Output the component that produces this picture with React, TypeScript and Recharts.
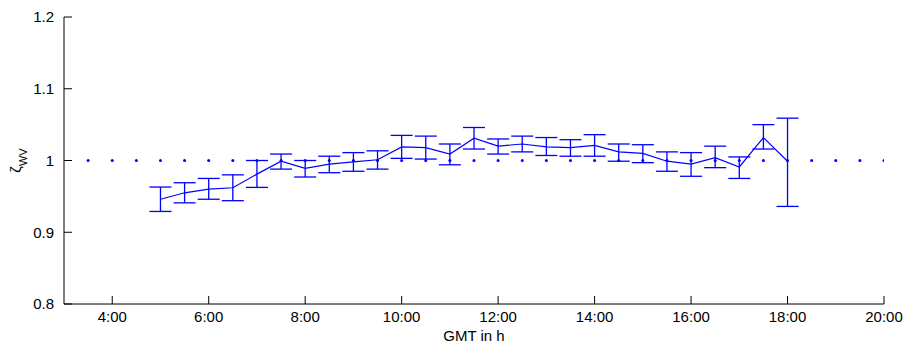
import React from 'react';
import { ComposedChart, Line, Scatter, XAxis, YAxis, ErrorBar } from 'recharts';

const hours = [5, 5.5, 6, 6.5, 7, 7.5, 8, 8.5, 9, 9.5, 10, 10.5, 11, 11.5, 12, 12.5, 13, 13.5, 14, 14.5, 15, 15.5, 16, 16.5, 17, 17.5, 18];
const values = [0.946, 0.955, 0.960, 0.962, 0.981, 0.999, 0.989, 0.995, 0.998, 1.001, 1.019, 1.018, 1.009, 1.031, 1.020, 1.023, 1.019, 1.018, 1.021, 1.012, 1.010, 0.999, 0.995, 1.004, 0.991, 1.032, 0.999];
const upper = [0.963, 0.969, 0.975, 0.980, 1.000, 1.009, 1.000, 1.006, 1.011, 1.0135, 1.035, 1.034, 1.023, 1.046, 1.030, 1.034, 1.032, 1.029, 1.036, 1.023, 1.022, 1.012, 1.011, 1.020, 1.005, 1.050, 1.059];
const lower = [0.929, 0.941, 0.946, 0.944, 0.9625, 0.988, 0.977, 0.983, 0.985, 0.988, 1.003, 1.002, 0.994, 1.016, 1.009, 1.012, 1.007, 1.006, 1.006, 0.999, 0.997, 0.985, 0.978, 0.990, 0.975, 1.016, 0.936];

const refHours = [3.5, 4, 4.5, 5, 5.5, 6, 6.5, 7, 7.5, 8, 8.5, 9, 9.5, 10, 10.5, 11, 11.5, 12, 12.5, 13, 13.5, 14, 14.5, 15, 15.5, 16, 16.5, 17, 17.5, 18, 18.5, 19, 19.5, 20];
const refValue = 1;

const xTicks = [4, 6, 8, 10, 12, 14, 16, 18, 20];
const yTicks = [0.8, 0.9, 1, 1.1, 1.2];

const mainData = hours.map((h, i) => ({ x: h, v: values[i], err: [values[i] - lower[i], upper[i] - values[i]] }));
const refData = refHours.map((h) => ({ x: h, y: refValue }));

const BLUE = '#0000ff';
const FONT = '"Liberation Sans", Arial, sans-serif';

const YLabel = (props: any) => {
  const vb = props.viewBox || { x: 0, y: 17, width: 64, height: 287 };
  const cy = vb.y + vb.height / 2;
  return (
    <text transform={`translate(21,${cy}) rotate(-90)`} textAnchor="middle" fontFamily={FONT} fontSize={15} fill="#000">
      ζ<tspan dy={6} fontSize={11}>WV</tspan>
    </text>
  );
};

const XLabel = (props: any) => {
  const vb = props.viewBox || { x: 64, y: 304, width: 820, height: 41 };
  return (
    <text x={vb.x + vb.width / 2} y={341} textAnchor="middle" fontFamily={FONT} fontSize={15} fill="#000">
      GMT in h
    </text>
  );
};

const RefDot = (props: any) => <circle cx={props.cx} cy={props.cy} r={1.5} fill={BLUE} />;

export default function App() {
  return (
    <div style={{ position: 'absolute', left: 0, top: 0, width: 905, height: 345, background: '#fff' }}>
      <ComposedChart width={905} height={345} margin={{ top: 17, right: 21, bottom: 0, left: 0 }}>
        <XAxis
          dataKey="x"
          type="number"
          domain={[3, 20]}
          ticks={xTicks}
          allowDataOverflow
          tickFormatter={(h: number) => `${h}:00`}
          height={41}
          tickSize={-8}
          tickMargin={15}
          stroke="#000"
          tick={{ fill: '#000', fontSize: 15, fontFamily: FONT }}
          label={<XLabel />}
        />
        <YAxis
          type="number"
          domain={[0.8, 1.2]}
          ticks={yTicks}
          allowDataOverflow
          width={64}
          tickSize={-8}
          tickMargin={18}
          stroke="#000"
          tick={{ fill: '#000', fontSize: 15, fontFamily: FONT }}
          label={<YLabel />}
        />
        <Scatter data={refData} dataKey="y" shape={<RefDot />} isAnimationActive={false} />
        <Line data={mainData} dataKey="v" stroke={BLUE} strokeWidth={1.2} dot={false} activeDot={false} isAnimationActive={false}>
          <ErrorBar dataKey="err" width={11} stroke={BLUE} strokeWidth={1.3} direction="y" />
        </Line>
      </ComposedChart>
    </div>
  );
}
